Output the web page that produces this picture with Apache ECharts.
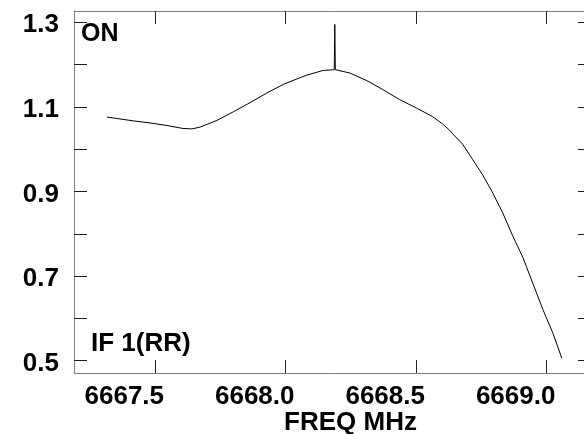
<!DOCTYPE html>
<html>
<head>
<meta charset="utf-8">
<script src="https://cdn.jsdelivr.net/npm/echarts@6/dist/echarts.min.js"></script>
<style>html,body{margin:0;padding:0;background:#fff}#c{width:584px;height:434px}</style>
</head>
<body>
<div id="c"></div>
<script>
const freq = [6667.315, 6667.36, 6667.415, 6667.48, 6667.545, 6667.606, 6667.64, 6667.671, 6667.736, 6667.798, 6667.863, 6667.928, 6667.99, 6668.054, 6668.081, 6668.142, 6668.186, 6668.188, 6668.190, 6668.246, 6668.311, 6668.372, 6668.437, 6668.502, 6668.563, 6668.60, 6668.628, 6668.642, 6668.679, 6668.717, 6668.755, 6668.794, 6668.832, 6668.870, 6668.909, 6668.947, 6668.985, 6669.024, 6669.058];
const flux = [1.076, 1.072, 1.067, 1.062, 1.056, 1.049, 1.048, 1.052, 1.068, 1.088, 1.110, 1.133, 1.153, 1.169, 1.175, 1.186, 1.188, 1.295, 1.188, 1.180, 1.162, 1.141, 1.117, 1.097, 1.077, 1.060, 1.045, 1.035, 1.011, 0.975, 0.939, 0.896, 0.849, 0.795, 0.744, 0.683, 0.622, 0.565, 0.506];
const xTicks = [6667.5, 6668.0, 6668.5, 6669.0];
const yTicks = [0.5, 0.6, 0.7, 0.8, 0.9, 1.0, 1.1, 1.2, 1.3];
const yLabels = [0.5, 0.7, 0.9, 1.1, 1.3];

const FONT = 'Liberation Sans';
const axisLine = {show: true, onZero: false, lineStyle: {color: '#808080', width: 1}};
const tickStyle = {color: '#222', width: 1};
const xMin = 6667.1884, xMax = 6669.170, yMin = 0.4709, yMax = 1.3267;

const chart = echarts.init(document.getElementById('c'), null, {renderer: 'canvas'});
chart.setOption({
  animation: false,
  backgroundColor: '#fff',
  grid: {left: 74, top: 11, width: 517, height: 362, containLabel: false, outerBoundsMode: 'none'},
  xAxis: [{
    type: 'value', position: 'bottom', min: xMin, max: xMax,
    axisLine: axisLine,
    axisTick: {show: true, inside: true, length: 13, customValues: xTicks, lineStyle: tickStyle},
    axisLabel: {customValues: xTicks, formatter: v => v.toFixed(1), fontSize: 26, fontWeight: 'bold', fontFamily: FONT, color: '#000', margin: 11, padding: [0, 62, 0, 0]},
    splitLine: {show: false},
    name: 'FREQ MHz', nameLocation: 'middle', nameGap: 37, nameMoveOverlap: false,
    nameTextStyle: {fontSize: 26, fontWeight: 'bold', fontFamily: FONT, color: '#000', padding: [0, 0, 0, 36], verticalAlign: 'top'}
  }, {
    type: 'value', position: 'top', min: xMin, max: xMax,
    axisLine: axisLine,
    axisTick: {show: true, inside: true, length: 13, customValues: xTicks, lineStyle: tickStyle},
    axisLabel: {show: false}, splitLine: {show: false}
  }],
  yAxis: [{
    type: 'value', position: 'left', min: yMin, max: yMax,
    axisLine: axisLine,
    axisTick: {show: true, inside: true, length: 13, customValues: yTicks, lineStyle: tickStyle},
    axisLabel: {customValues: yLabels, formatter: v => '{a|' + v.toFixed(1) + '}', margin: 15,
      rich: {a: {fontSize: 26, fontWeight: 'bold', fontFamily: FONT, color: '#000', padding: [6, 0, 0, 0]}}},
    splitLine: {show: false}
  }, {
    type: 'value', position: 'right', min: yMin, max: yMax,
    axisLine: axisLine,
    axisTick: {show: true, inside: true, length: 13, customValues: yTicks, lineStyle: tickStyle},
    axisLabel: {show: false}, splitLine: {show: false}
  }],
  graphic: [
    {type: 'text', left: 81, top: 22, style: {text: 'ON', font: 'bold 25px "Liberation Sans"', fill: '#000'}},
    {type: 'text', left: 91, top: 331, style: {text: 'IF 1(RR)', font: 'bold 26px "Liberation Sans"', fill: '#000'}}
  ],
  series: [{
    type: 'line', xAxisIndex: 0, yAxisIndex: 0,
    data: freq.map((f, i) => [f, flux[i]]),
    showSymbol: false, symbol: 'none',
    lineStyle: {color: '#000', width: 1},
    silent: true
  }]
});
</script>
</body>
</html>
